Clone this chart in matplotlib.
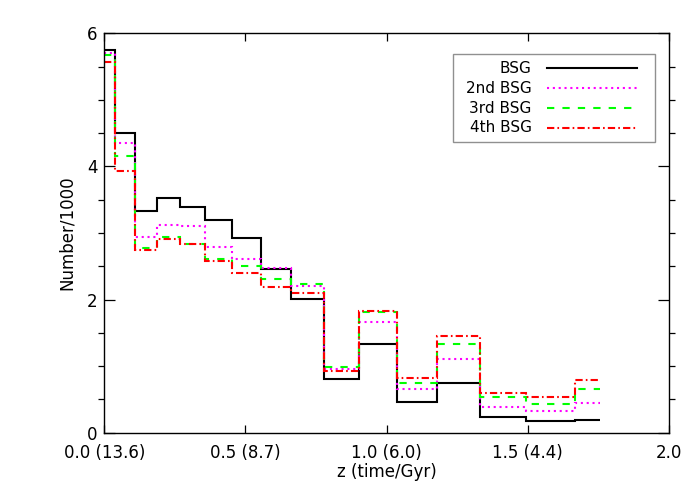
import matplotlib
matplotlib.use("Agg")
import matplotlib.pyplot as plt
from matplotlib.patches import Rectangle
from matplotlib.lines import Line2D

# ---- data ----
bin_edges = [0.0, 0.039, 0.110, 0.188, 0.268, 0.358, 0.4525, 0.555, 0.660,
             0.778, 0.904, 1.036, 1.178, 1.331, 1.494, 1.667, 1.757]
bsg1 = [5.75, 4.50, 3.33, 3.53, 3.39, 3.19, 2.92, 2.46, 2.01,
        0.80, 1.33, 0.46, 0.75, 0.24, 0.18, 0.19]
bsg2 = [5.71, 4.35, 2.94, 3.12, 3.10, 2.79, 2.61, 2.47, 2.21,
        0.95, 1.66, 0.65, 1.11, 0.39, 0.33, 0.44]
bsg3 = [5.68, 4.15, 2.78, 2.94, 2.84, 2.61, 2.51, 2.31, 2.23,
        0.98, 1.82, 0.74, 1.34, 0.53, 0.43, 0.65]
bsg4 = [5.57, 3.93, 2.75, 2.91, 2.84, 2.58, 2.40, 2.19, 2.10,
        0.93, 1.83, 0.82, 1.46, 0.59, 0.54, 0.79]
series_labels = ["BSG", "2nd BSG", "3rd BSG", "4th BSG"]
xtick_vals = [0.0, 0.5, 1.0, 1.5, 2.0]
xtick_labels = ["0.0 (13.6)", "0.5 (8.7)", "1.0 (6.0)", "1.5 (4.4)", "2.0"]
ytick_vals = [0, 2, 4, 6]

plt.rcParams['font.family'] = ['DejaVu Sans']

fig = plt.figure(figsize=(7, 5), dpi=100)
ax = fig.add_axes([104.3 / 700, 1 - 432.7 / 500, 564.4 / 700, 399.4 / 500])

lw = 1.5
styles = [
    dict(color="black", linestyle="-"),
    dict(color="#ff00ff", linestyle=(0, (1.0, 1.8))),
    dict(color="#00ff00", linestyle=(0, (3.5, 3.9))),
    dict(color="#ff0000", linestyle=(0, (3.5, 1.5, 0.8, 1.5))),
]
for vals, st in zip([bsg1, bsg2, bsg3, bsg4], styles):
    ax.stairs(vals, bin_edges, baseline=None, linewidth=lw, **st)

ax.set_xlim(0, 2.0)
ax.set_ylim(0, 6)
ax.set_xticks(xtick_vals)
ax.set_xticklabels(xtick_labels)
ax.set_yticks(ytick_vals)
ax.set_yticks([v * 0.5 for v in range(13)], minor=True)
ax.tick_params(axis='both', direction='in', top=True, right=True,
               labelsize=12, width=0.9)
ax.tick_params(axis='x', which='major', length=5.7, pad=8)
ax.tick_params(axis='y', which='major', length=8, pad=5)
ax.tick_params(axis='y', which='minor', length=4.2, width=0.9,
               left=True, right=True)
for s in ax.spines.values():
    s.set_linewidth(1.0)

ax.set_xlabel("z (time/Gyr)", fontsize=12, labelpad=0.5)
ax.set_ylabel("Number/1000", fontsize=12, labelpad=8)

# ---- legend (drawn manually to right-align labels) ----
bx0, bx1 = 0.617, 0.976
by0, by1 = 0.728, 0.949
ax.add_patch(Rectangle((bx0, by0), bx1 - bx0, by1 - by0, transform=ax.transAxes,
                       facecolor="white", edgecolor="#909090", linewidth=1.0,
                       zorder=5))
rows_y = [0.912, 0.862, 0.812, 0.764]
for lab, st, yy in zip(series_labels, styles, rows_y):
    ax.text(0.757, yy, lab, transform=ax.transAxes, ha="right", va="center",
            fontsize=11, zorder=6)
    ax.add_line(Line2D([0.784, 0.943], [yy, yy], transform=ax.transAxes,
                       linewidth=lw, zorder=6, **st))

fig.savefig("out.png", dpi=100)
